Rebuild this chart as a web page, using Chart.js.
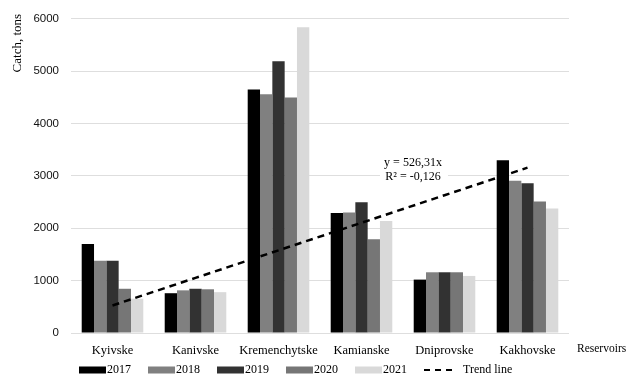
<!DOCTYPE html>
<html>
<head>
<meta charset="utf-8">
<script src="https://cdn.jsdelivr.net/npm/chart.js@4/dist/chart.umd.min.js"></script>
<style>
  html, body { margin: 0; padding: 0; background: #ffffff; }
  #wrap { width: 627px; height: 376px; position: relative; }
</style>
</head>
<body>
<div id="wrap"><canvas id="c" width="627" height="376"></canvas></div>
<script>
// Fish catch by reservoir, tons
const reservoirs = ['Kyivske', 'Kanivske', 'Kremenchytske', 'Kamianske', 'Dniprovske', 'Kakhovske'];
const years = ['2017', '2018', '2019', '2020', '2021'];
const catch2017 = [1700, 760, 4650, 2290, 1020, 3300];
const catch2018 = [1380, 815, 4560, 2300, 1160, 2910];
const catch2019 = [1380, 845, 5190, 2500, 1160, 2860];
const catch2020 = [845, 835, 4500, 1790, 1160, 2510];
const catch2021 = [655, 780, 5840, 2140, 1090, 2380];
// Linear trend y = 526,31x evaluated at x = 1..6
const trendValues = [526.31, 1052.62, 1578.93, 2105.24, 2631.55, 3157.86];
const trendEquation = 'y = 526,31x';
const trendR2 = 'R\u00b2 = -0,126';
const yTicks = [0, 1000, 2000, 3000, 4000, 5000, 6000];

const barColors = ['#000000', '#808080', '#323232', '#767676', '#d9d9d9'];
const seriesValues = [catch2017, catch2018, catch2019, catch2020, catch2021];

const serif = '"Liberation Serif", "Times New Roman", serif';
const sans = '"Liberation Sans", Arial, sans-serif';

const datasets = years.map((yr, i) => ({
  type: 'bar',
  label: yr,
  data: seriesValues[i],
  backgroundColor: barColors[i],
  borderWidth: 0,
  categoryPercentage: 0.742,
  barPercentage: 1.0,
  order: 2
}));
datasets.push({
  type: 'line',
  label: 'Trend line',
  data: trendValues,
  borderColor: '#000000',
  borderWidth: 2.5,
  borderDash: [7, 5],
  pointRadius: 0,
  fill: false,
  tension: 0,
  order: 1
});

// Extra texts: axis titles, trend equation box and the legend row
const annotations = {
  id: 'annotations',
  afterDatasetsDraw(chart) {
    const ctx = chart.ctx;
    const area = chart.chartArea;
    const xs = chart.scales.x;
    const ys = chart.scales.y;
    ctx.save();

    // trend equation label with white backing, between Kamianske and Dniprovske
    const lx = (xs.getPixelForValue(3) + xs.getPixelForValue(4)) / 2 + 10;
    const ly = ys.getPixelForValue(3000);
    ctx.fillStyle = '#ffffff';
    ctx.fillRect(lx - 33, ly - 23, 68, 34);
    ctx.fillStyle = '#000000';
    ctx.font = '12px ' + serif;
    ctx.textAlign = 'center';
    ctx.textBaseline = 'middle';
    ctx.fillText(trendEquation, lx, ly - 13);
    ctx.fillText(trendR2, lx, ly + 1);

    // y axis title at the top
    ctx.save();
    ctx.translate(18, area.top - 5);
    ctx.rotate(-Math.PI / 2);
    ctx.textAlign = 'right';
    ctx.textBaseline = 'middle';
    ctx.font = '13px ' + serif;
    ctx.fillText('Catch, tons', 0, 0);
    ctx.restore();

    // x axis title to the right of the categories
    ctx.font = '11.5px ' + serif;
    ctx.textAlign = 'left';
    ctx.textBaseline = 'middle';
    ctx.fillText('Reservoirs', area.right + 8, 349);

    // legend row
    const legendY = 370;
    const startX = 79;
    const pitch = 69;
    const boxW = 27, boxH = 7;
    ctx.font = '12px ' + serif;
    chart.data.datasets.forEach((ds, i) => {
      const x = startX + i * pitch;
      if (ds.type === 'line') {
        ctx.strokeStyle = '#000000';
        ctx.lineWidth = 2;
        ctx.setLineDash([6, 5]);
        ctx.beginPath();
        ctx.moveTo(x, legendY);
        ctx.lineTo(x + 30, legendY);
        ctx.stroke();
        ctx.setLineDash([]);
        ctx.fillStyle = '#000000';
        ctx.fillText(ds.label, x + 39, legendY);
      } else {
        ctx.fillStyle = ds.backgroundColor;
        ctx.fillRect(x, legendY - boxH / 2, boxW, boxH);
        ctx.fillStyle = '#000000';
        ctx.fillText(ds.label, x + boxW + 1, legendY);
      }
    });
    ctx.restore();
  }
};

new Chart(document.getElementById('c'), {
  data: { labels: reservoirs, datasets },
  options: {
    responsive: false,
    animation: false,
    layout: { padding: { top: 18, right: 58, bottom: 0, left: 0 } },
    plugins: {
      legend: { display: false },
      tooltip: { enabled: false }
    },
    scales: {
      x: {
        offset: true,
        grid: { display: false, drawTicks: false },
        border: { display: false },
        ticks: {
          color: '#000000',
          font: { family: serif, size: 12.5 },
          padding: 10,
          maxRotation: 0,
          autoSkip: false
        },
        afterFit(scale) { scale.height = 43; }
      },
      y: {
        min: 0,
        max: 6000,
        afterBuildTicks(scale) { scale.ticks = yTicks.map(v => ({ value: v })); },
        grid: { color: '#dedede', lineWidth: 1, drawTicks: false },
        border: { display: false },
        ticks: {
          color: '#111111',
          font: { family: sans, size: 11.5 },
          padding: 12,
          callback: (v) => String(v)
        },
        afterFit(scale) { scale.width = 71; }
      }
    }
  },
  plugins: [annotations]
});
</script>
</body>
</html>
